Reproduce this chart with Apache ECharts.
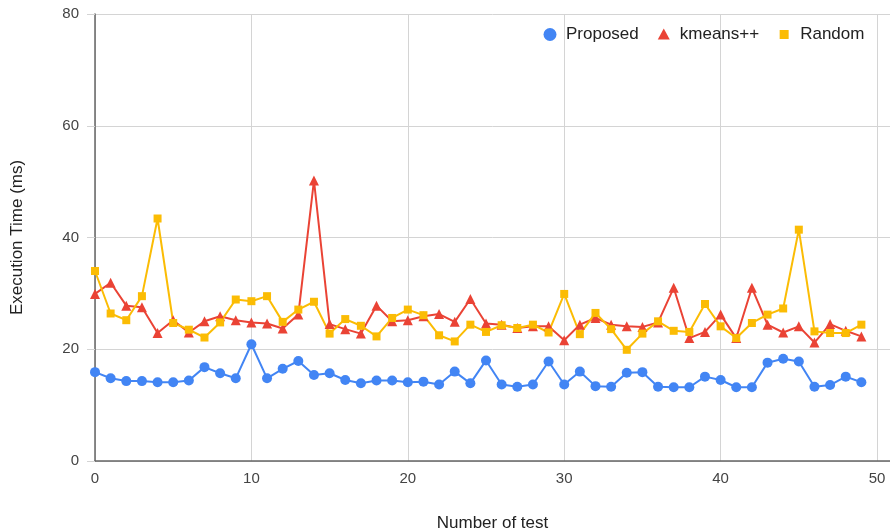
<!DOCTYPE html>
<html>
<head>
<meta charset="utf-8">
<script src="https://cdn.jsdelivr.net/npm/echarts@6/dist/echarts.min.js"></script>
<style>
html,body{margin:0;padding:0;background:#fff;}
#chart{width:890px;height:532px;}
</style>
</head>
<body>
<div id="chart"></div>
<script>
const testNumbers = Array.from({length: 50}, (_, i) => i);
const proposed = [15.9,14.8,14.3,14.3,14.1,14.1,14.4,16.8,15.7,14.8,
  20.9,14.8,16.5,17.9,15.4,15.7,14.5,13.9,14.4,14.4,
  14.1,14.2,13.7,16.0,13.9,18.0,13.7,13.3,13.7,17.8,
  13.7,16.0,13.4,13.3,15.8,15.9,13.3,13.2,13.2,15.1,
  14.5,13.2,13.2,17.6,18.3,17.8,13.3,13.6,15.1,14.1];
const kmeans = [29.9,31.9,27.8,27.5,22.9,25.2,23.0,25.0,25.9,25.2,
  24.8,24.6,23.7,26.2,50.2,24.5,23.6,22.8,27.8,25.0,
  25.2,25.9,26.3,24.9,29.0,24.6,24.4,23.8,24.1,24.1,
  21.6,24.4,25.6,24.4,24.1,24.0,24.8,31.0,22.0,23.1,
  26.2,22.0,31.0,24.4,23.0,24.1,21.2,24.5,23.3,22.3];
const random = [34.0,26.4,25.2,29.5,43.4,24.7,23.5,22.1,24.8,28.9,
  28.6,29.5,24.9,27.1,28.5,22.8,25.4,24.2,22.3,25.6,
  27.1,26.1,22.5,21.4,24.4,23.1,24.3,23.8,24.4,23.0,
  29.9,22.7,26.5,23.6,19.9,22.8,25.0,23.3,23.1,28.1,
  24.1,22.0,24.7,26.2,27.3,41.4,23.2,22.9,22.9,24.4];
const seriesNames = ['Proposed', 'kmeans++', 'Random'];
const yTicks = [0, 20, 40, 60, 80];
const xTicks = [0, 10, 20, 30, 40, 50];

const FONT = "'Liberation Sans', Arial, sans-serif";
const colors = ['#4285F4', '#EA4335', '#FBBC04'];
const pair = (arr) => arr.map((v, i) => [testNumbers[i], v]);

// legend icons drawn in a 22x13 box (moveTo points define the box)
const iconCircle = 'path://M0,0M22,13M4.5,6.5A6.5,6.5 0 1,0 17.5,6.5A6.5,6.5 0 1,0 4.5,6.5Z';
const iconTri = 'path://M0,0M22,13M11,0.5L17,11.5L5,11.5Z';
const iconSq = 'path://M0,0M22,13M6.5,2L15.5,2L15.5,11L6.5,11Z';

const chart = echarts.init(document.getElementById('chart'), null, {renderer: 'canvas'});
chart.setOption({
  animation: false,
  backgroundColor: '#ffffff',
  textStyle: {fontFamily: FONT},
  color: colors,
  grid: {left: 95, right: 0, top: 14, bottom: 71, containLabel: false, outerBoundsMode: 'none'},
  legend: {
    left: 534, top: 21,
    itemWidth: 22, itemHeight: 13, itemGap: 14,
    textStyle: {fontFamily: FONT, fontSize: 17, color: '#222222', padding: [0,0,0,0]},
    data: [
      {name: seriesNames[0], icon: iconCircle},
      {name: seriesNames[1], icon: iconTri},
      {name: seriesNames[2], icon: iconSq}
    ]
  },
  xAxis: {
    type: 'value',
    min: xTicks[0], max: 50.83, interval: 10,
    name: 'Number of test',
    nameLocation: 'middle', nameGap: 54,
    nameTextStyle: {fontFamily: FONT, fontSize: 17, color: '#222222'},
    axisLine: {show: true, onZero: false, lineStyle: {color: '#666666', width: 1.5}},
    axisTick: {show: false},
    axisLabel: {
      fontFamily: FONT, fontSize: 15, color: '#444444', margin: 10,
      showMaxLabel: false,
      formatter: (v) => (xTicks.indexOf(v) >= 0 ? String(v) : '')
    },
    splitLine: {show: true, lineStyle: {color: '#d4d4d4', width: 1}}
  },
  yAxis: {
    type: 'value',
    min: yTicks[0], max: yTicks[yTicks.length - 1], interval: 20,
    name: 'Execution Time (ms)',
    nameLocation: 'middle', nameGap: 69,
    nameTextStyle: {fontFamily: FONT, fontSize: 17, color: '#222222'},
    axisLine: {show: true, lineStyle: {color: '#666666', width: 1.5}},
    axisTick: {show: true, length: 8, lineStyle: {color: '#d4d4d4', width: 1}},
    axisLabel: {fontFamily: FONT, fontSize: 15, color: '#444444', margin: 16},
    splitLine: {show: true, lineStyle: {color: '#d4d4d4', width: 1}}
  },
  series: [
    {
      name: seriesNames[0], type: 'line', data: pair(proposed),
      symbol: 'circle', symbolSize: 10, showSymbol: true,
      lineStyle: {width: 2, color: colors[0]}, itemStyle: {color: colors[0]}
    },
    {
      name: seriesNames[1], type: 'line', data: pair(kmeans),
      symbol: 'triangle', symbolSize: 10, showSymbol: true,
      lineStyle: {width: 2, color: colors[1]}, itemStyle: {color: colors[1]}
    },
    {
      name: seriesNames[2], type: 'line', data: pair(random),
      symbol: 'rect', symbolSize: 8, showSymbol: true,
      lineStyle: {width: 2, color: colors[2]}, itemStyle: {color: colors[2]}
    }
  ]
});
</script>
</body>
</html>
